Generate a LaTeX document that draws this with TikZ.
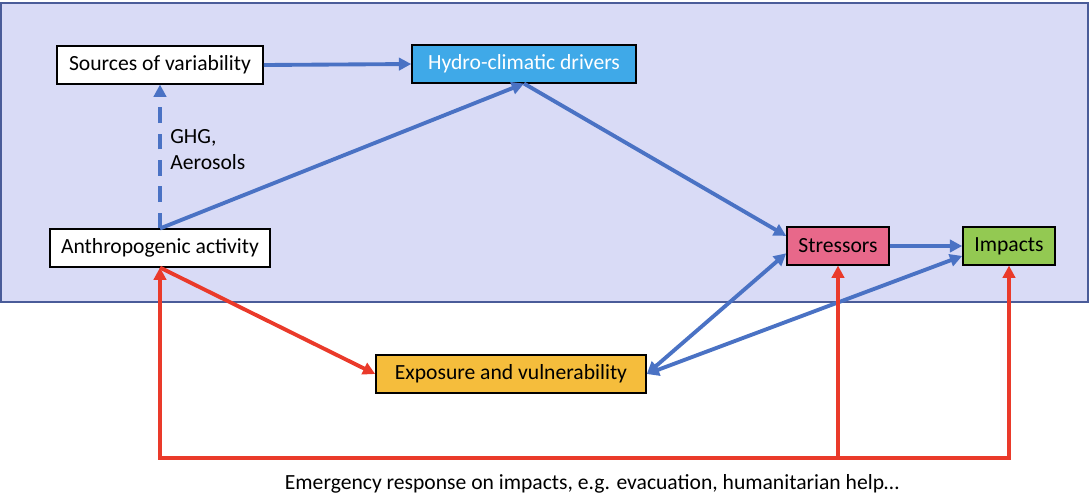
\documentclass[tikz,border=0pt]{standalone}
\usepackage{fontspec}
\setmainfont{Carlito}
\usetikzlibrary{arrows.meta}

\definecolor{bgfill}{HTML}{D9DBF6}
\definecolor{bgline}{HTML}{4A5C99}
\definecolor{arrblue}{HTML}{4A72C4}
\definecolor{arrred}{HTML}{EA3A2A}
\definecolor{hydrofill}{HTML}{3FA9E8}
\definecolor{stressfill}{HTML}{E8688A}
\definecolor{impactfill}{HTML}{93C952}
\definecolor{expofill}{HTML}{F5BD3C}

\begin{document}
\begin{tikzpicture}[x=0.02cm,y=-0.02cm,
    box/.style={draw=black,line width=0.9pt,inner sep=0pt,minimum height=0.75cm,
      font=\fontsize{12.3}{14}\selectfont},
    blue arrow/.style={draw=arrblue,line width=2.2pt,-{Triangle[length=7pt,width=7pt]}},
    red arrow/.style={draw=arrred,line width=2.2pt,-{Triangle[length=7pt,width=7pt]}}]
    \useasboundingbox (0,0) rectangle (1090,495);
    \draw[fill=bgfill,draw=bgline,line width=1pt] (1,3) rectangle (1088,302);
    % boxes
    \node[box,fill=white,minimum width=4.12cm] (sources) at (160,65) {Sources of variability};
    \node[box,fill=hydrofill,text=white,minimum width=4.48cm] (hydro) at (524,64) {Hydro-climatic drivers};
    \node[box,fill=white,minimum width=4.4cm] (anthro) at (160,248) {Anthropogenic activity};
    \node[box,fill=stressfill,minimum width=2.04cm] (stress) at (838,246) {Stressors};
    \node[box,fill=impactfill,minimum width=1.84cm] (impacts) at (1009,246) {Impacts};
    \node[box,fill=expofill,minimum width=5.4cm] (expo) at (511,374) {Exposure and vulnerability};
    \node[font=\fontsize{12.3}{14}\selectfont] (response) at (592,484)
      {Emergency response on impacts, e.g. evacuation, humanitarian help\dots};
    % blue links
    \draw[blue arrow] (sources.east) -- (hydro.west);
    \draw[blue arrow,dash pattern=on 9pt off 6pt] (anthro.north) -- (sources.south)
      node[pos=0.55,right=0.05cm,align=left,font=\fontsize{12.3}{15}\selectfont] (ghg) {GHG,\\Aerosols};
    \draw[blue arrow] (anthro.north) -- (hydro.south);
    \draw[blue arrow] (hydro.south) -- (stress.169);
    \draw[blue arrow] (stress.east) -- (impacts.west);
    \draw[blue arrow,{Triangle[length=7pt,width=7pt]}-{Triangle[length=7pt,width=7pt]}] (expo.east) -- (stress.188);
    \draw[blue arrow,{Triangle[length=7pt,width=7pt]}-{Triangle[length=7pt,width=7pt]}] (expo.east) -- (impacts.192);
    % red links
    \coordinate (base) at (160,458);
    \draw[red arrow] (anthro.south) -- (expo.west);
    \draw[red arrow,{Triangle[length=7pt,width=7pt]}-{Triangle[length=7pt,width=7pt]}]
      (anthro.south) -- (anthro.south |- base) -- (impacts.south |- base) -- (impacts.south);
    \draw[red arrow] (stress.south |- base) -- (stress.south);
\end{tikzpicture}
\end{document}
